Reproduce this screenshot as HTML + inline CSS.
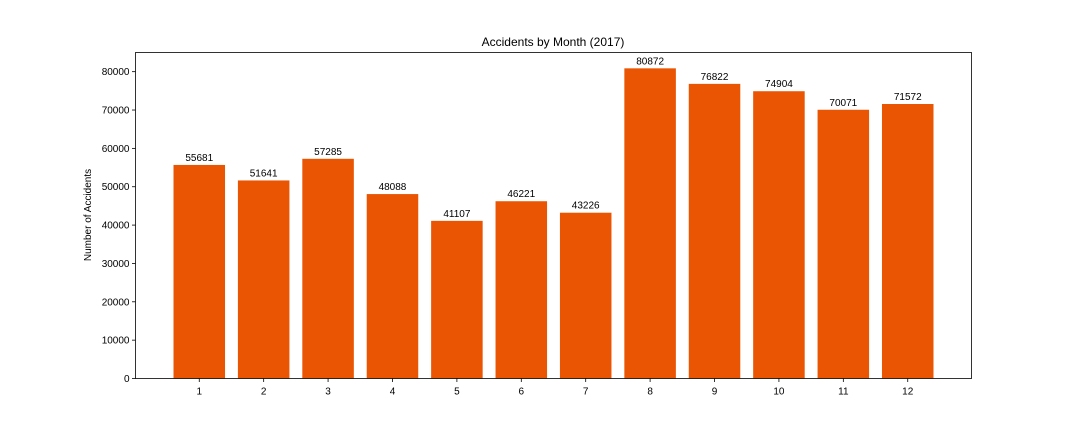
<!DOCTYPE html>
<html><head><meta charset="utf-8"><style>
body{margin:0;background:#fff;}
svg text{font-family:"Liberation Sans","DejaVu Sans",sans-serif;fill:#000;}
</style></head><body>
<svg id="chart" width="1080" height="432" xmlns="http://www.w3.org/2000/svg">
<text x="553" y="46" text-anchor="middle" font-size="12">Accidents by Month (2017)</text>
<text transform="translate(91,215) rotate(-90)" text-anchor="middle" font-size="10">Number of Accidents</text>
<g id="bars"></g><g id="ticks"></g>
<rect x="135.5" y="52.5" width="836" height="326" fill="none" stroke="#000" stroke-width="0.8"/>
</svg>
<script>
const months = [1,2,3,4,5,6,7,8,9,10,11,12];
const accidents = [55681,51641,57285,48088,41107,46221,43226,80872,76822,74904,70071,71572];
const yTicks = [0,10000,20000,30000,40000,50000,60000,70000,80000];
const NS = "http://www.w3.org/2000/svg";
const L=135.5,R=971.5,T=52.5,B=378.5;
const xmin=0.01,xmax=12.99,ymax=85000;
const xs=v=>L+(v-xmin)/(xmax-xmin)*(R-L);
const ys=v=>B-v/ymax*(B-T);
const bars=document.getElementById('bars'), ticks=document.getElementById('ticks');
function mk(tag,attrs,parent){const e=document.createElementNS(NS,tag);for(const k in attrs)e.setAttribute(k,attrs[k]);parent.appendChild(e);return e;}
months.forEach((m,i)=>{
  const v=accidents[i];
  const r=mk('rect',{x:xs(m-0.4),y:ys(v),width:xs(m+0.4)-xs(m-0.4),height:ys(0)-ys(v),fill:'#EA5504'},bars);
  
  
  const t=mk('text',{x:xs(m),y:ys(v)-4,'text-anchor':'middle','font-size':'10'},bars);
  t.textContent=v;
  
  
  const tk=mk('line',{x1:xs(m),x2:xs(m),y1:B,y2:B+3.5,stroke:'#000','stroke-width':0.8},ticks);
  
  
  const tl=mk('text',{x:xs(m),y:B+16,'text-anchor':'middle','font-size':'10'},ticks);
  tl.textContent=m;
  
  
});
yTicks.forEach(v=>{
  const tk=mk('line',{x1:L-3.5,x2:L,y1:ys(v),y2:ys(v),stroke:'#000','stroke-width':0.8},ticks);
  
  
  const tl=mk('text',{x:L-6,y:ys(v)+3.5,'text-anchor':'end','font-size':'10'},ticks);
  tl.textContent=v;
  
  
});
</script>
</body></html>
